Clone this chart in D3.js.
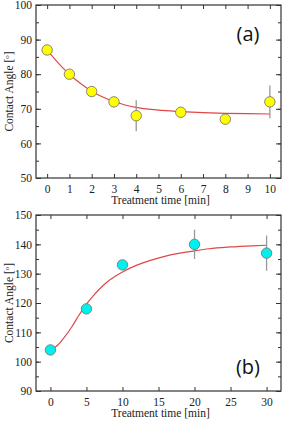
<!DOCTYPE html>
<html>
<head>
<meta charset="utf-8">
<script src="https://cdn.jsdelivr.net/npm/d3@7"></script>
<style>
  body { margin: 0; background: #fff; }
</style>
</head>
<body>
<script>
// panel (a)
var timeA = [0, 1, 2, 3, 4, 6, 8, 10];
var angleA = [87, 80, 75, 72, 68, 69, 67, 72];
var errA = [0, 0, 0, 0, 4.5, 0, 0, 4.7];
var fitTimeA = [0, 0.5, 1, 1.5, 2, 2.5, 3, 3.5, 4, 5, 6, 7, 8, 9, 10];
var fitAngleA = [87, 83.2, 80, 77.3, 75.1, 73.4, 72.1, 71.1, 70.4, 69.6, 69.2, 68.9, 68.7, 68.6, 68.5];
var xTicksA = [0, 1, 2, 3, 4, 5, 6, 7, 8, 9, 10];
var yTicksA = [50, 60, 70, 80, 90, 100];

// panel (b)
var timeB = [0, 5, 10, 20, 30];
var angleB = [104, 118, 133, 140, 137];
var errB = [0, 0, 0, 5, 6];
var fitTimeB = [0, 1, 2, 3, 4, 5, 6, 7, 8, 9, 10, 12, 14, 16, 18, 20, 22, 25, 28, 30];
var fitAngleB = [104, 105.6, 108.5, 112, 116, 119.6, 122.6, 125.2, 127.4, 129.1, 130.6, 132.9, 134.6, 136, 137, 137.8, 138.5, 139.1, 139.5, 139.7];
var xTicksB = [0, 5, 10, 15, 20, 25, 30];
var yTicksB = [90, 100, 110, 120, 130, 140, 150];

var serif = "'Liberation Serif', 'Times New Roman', serif";
var sans = "'Open Sans', 'Liberation Sans', sans-serif";

var W = 285, H = 421;
var svg = d3.select("body").append("svg").attr("width", W).attr("height", H);

function panel(opt) {
  var left = 36, right = 281;
  var x = d3.scaleLinear().domain(opt.xdom).range([left, right]);
  var y = d3.scaleLinear().domain(opt.ydom).range([opt.bottom, opt.top]);
  var g = svg.append("g");
  var minor = d3.range(opt.ydom[0], opt.ydom[1] + 0.01, opt.ystep / 2);
  var frameColor = "#333";

  function tidy(a) {
    a.select(".domain").remove();
    a.selectAll("text").style("font-family", serif).attr("font-size", 11.5).attr("fill", "#222");
    a.selectAll("line").attr("stroke", frameColor);
  }

  // inward ticks on all four sides
  g.append("g").attr("transform", "translate(0," + opt.bottom + ")")
    .call(d3.axisBottom(x).tickValues(opt.xticks).tickSizeInner(-4).tickSizeOuter(0).tickPadding(7))
    .call(tidy);
  g.append("g").attr("transform", "translate(0," + opt.top + ")")
    .call(d3.axisTop(x).tickValues(opt.xticks).tickSizeInner(-4).tickSizeOuter(0).tickFormat(""))
    .call(tidy);
  g.append("g").attr("transform", "translate(" + left + ",0)")
    .call(d3.axisLeft(y).tickValues(opt.yticks).tickSizeInner(-5).tickSizeOuter(0).tickPadding(4))
    .call(tidy);
  g.append("g").attr("transform", "translate(" + left + ",0)")
    .call(d3.axisLeft(y).tickValues(minor).tickSizeInner(-3).tickSizeOuter(0).tickFormat(""))
    .call(tidy);
  g.append("g").attr("transform", "translate(" + right + ",0)")
    .call(d3.axisRight(y).tickValues(opt.yticks).tickSizeInner(-5).tickSizeOuter(0).tickFormat(""))
    .call(tidy);
  g.append("g").attr("transform", "translate(" + right + ",0)")
    .call(d3.axisRight(y).tickValues(minor).tickSizeInner(-3).tickSizeOuter(0).tickFormat(""))
    .call(tidy);

  g.append("rect")
    .attr("x", left).attr("y", opt.top)
    .attr("width", right - left).attr("height", opt.bottom - opt.top)
    .attr("fill", "none").attr("stroke", frameColor).attr("stroke-width", 1.2);

  // fitted curve
  var line = d3.line().x(function(d) { return x(d[0]); }).y(function(d) { return y(d[1]); }).curve(d3.curveMonotoneX);
  g.append("path")
    .datum(d3.zip(opt.fitT, opt.fitV))
    .attr("d", line)
    .attr("fill", "none").attr("stroke", "#e04848").attr("stroke-width", 1.2);

  var pts = d3.zip(opt.t, opt.v, opt.e);
  // error bars
  g.selectAll("line.err").data(pts.filter(function(d) { return d[2] > 0; }))
    .enter().append("line").attr("class", "err")
    .attr("x1", function(d) { return x(d[0]); }).attr("x2", function(d) { return x(d[0]); })
    .attr("y1", function(d) { return y(d[1] - d[2]); }).attr("y2", function(d) { return y(d[1] + d[2]); })
    .attr("stroke", "#999").attr("stroke-width", 1.3);
  g.selectAll("circle").data(pts)
    .enter().append("circle")
    .attr("cx", function(d) { return x(d[0]); }).attr("cy", function(d) { return y(d[1]); })
    .attr("r", 5.2)
    .attr("fill", opt.color).attr("stroke", "#7a7a6a").attr("stroke-width", 0.9);

  // titles
  g.append("text")
    .attr("x", (left + right) / 2 + 2).attr("y", opt.bottom + 26)
    .attr("text-anchor", "middle")
    .style("font-family", serif).attr("font-size", 11.5).attr("fill", "#222")
    .text("Treatment time [min]");
  var yt = g.append("text")
    .attr("transform", "translate(13," + ((opt.top + opt.bottom) / 2) + ") rotate(-90)")
    .attr("text-anchor", "middle")
    .style("font-family", serif).attr("font-size", 11.5).attr("fill", "#222");
  yt.append("tspan").text("Contact Angle [");
  yt.append("tspan").attr("baseline-shift", "super").attr("font-size", 7).text("o");
  yt.append("tspan").text("]");

  g.append("text")
    .attr("x", opt.labelX).attr("y", opt.labelY)
    .attr("text-anchor", "middle")
    .style("font-family", sans).attr("font-size", 20).attr("fill", "#111")
    .text(opt.label);
}

panel({ xdom: [-0.5, 10.5], ydom: [50, 100], ystep: 10, top: 5, bottom: 178,
  xticks: xTicksA, yticks: yTicksA, t: timeA, v: angleA, e: errA,
  fitT: fitTimeA, fitV: fitAngleA, color: "#ffff00", label: "(a)", labelX: 248, labelY: 41 });

panel({ xdom: [-2, 32], ydom: [90, 150], ystep: 10, top: 215, bottom: 391,
  xticks: xTicksB, yticks: yTicksB, t: timeB, v: angleB, e: errB,
  fitT: fitTimeB, fitV: fitAngleB, color: "#00f0f0", label: "(b)", labelX: 248, labelY: 374 });
</script>
</body>
</html>
